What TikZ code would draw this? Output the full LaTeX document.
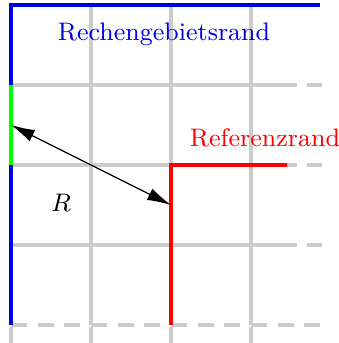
\documentclass[tikz,border=0pt]{standalone}
\usetikzlibrary{arrows.meta}
\begin{document}
\begin{tikzpicture}[
    font=\fontsize{9}{11}\selectfont,
    gitter/.style   ={draw=black!20, line width=1.4pt},
    strich/.style   ={gitter, dash pattern=on 0.2cm off 0.1333cm},
    gebiet/.style   ={draw=blue!90!black, line width=1.4pt, line join=miter},
    einstrom/.style ={draw=green, line width=1.4pt},
    referenz/.style ={draw=red, line width=1.4pt, line join=miter},
    pf/.style       ={{Latex[length=8.5pt,width=4.5pt]}-{Latex[length=8.5pt,width=4.5pt]}, draw=black, line width=0.45pt}
  ]
  \useasboundingbox (-0.1375,-0.225) rectangle (4.1,4.0625);

  % --- Gitter ---------------------------------------------------------------
  \foreach \y in {1,2,3} \draw[gitter] (0,\y) -- (3.575,\y) (3.7,\y) -- (3.89,\y);
  \draw[strich] (0,0) -- (3.9,0);
  \foreach \x in {1,2,3} \draw[gitter] (\x,0) -- (\x,4);
  \foreach \x in {0,...,3} \draw[strich] (\x,-0.025) -- (\x,-0.225);

  % --- Raender --------------------------------------------------------------
  \draw[gebiet] (0,0) -- (0,2) (0,3) -- (0,4) -- (3.86,4);
  \draw[einstrom] (0,2) -- (0,3);
  \draw[referenz] (2,0) -- (2,2) -- (3.45,2);

  % --- Beschriftung ---------------------------------------------------------
  \node[text=blue!90!black] (gebtxt) at (1.9125,3.6375) {Rechengebietsrand};
  \node[text=red] (reftxt) at (3.175,2.34) {Referenzrand};
  \node (rtxt) at (0.625,1.525) {$R$};

  \coordinate (ra) at (0,2.5);
  \coordinate (rb) at (2,1.5);
  \draw[pf] (ra) -- (rb);

\end{tikzpicture}
\end{document}
